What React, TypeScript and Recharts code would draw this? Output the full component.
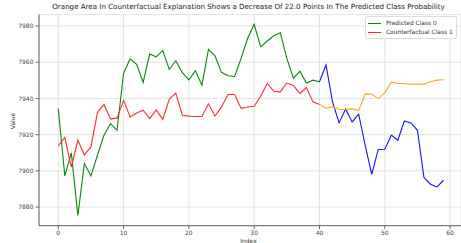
import { LineChart, Line, XAxis, YAxis, CartesianGrid } from 'recharts'

// values, index 0..40 for the first part, 40..59 for the tail
const predicted = [
  7934.5, 7897.2, 7909.9, 7875.4, 7904, 7897.2, 7908.6, 7919.7, 7926.1, 7922.4,
  7953.8, 7961.9, 7958.9, 7948.8, 7964.5, 7963, 7966.5, 7956, 7960.8, 7954.2,
  7950.3, 7955.3, 7947.3, 7967.1, 7963.5, 7954.4, 7952.5, 7952.1, 7962.1, 7973.2,
  7980.9, 7968.5, 7971.7, 7974.6, 7976.3, 7962.1, 7951.2, 7955, 7948.5, 7950.1,
  7949.2,
]
const counterfactual = [
  7913.8, 7918.4, 7902.1, 7916.9, 7908.8, 7913.2, 7932.2, 7936.7, 7928.7, 7929.1,
  7938.9, 7929.8, 7932, 7933.5, 7928.9, 7933.7, 7928.4, 7939.6, 7942.9, 7930.7,
  7930.2, 7930, 7930, 7937, 7930.3, 7935.3, 7942.2, 7942.2, 7934.5, 7935.3,
  7935.7, 7941.3, 7948.3, 7944, 7943.6, 7948.5, 7947.2, 7942.8, 7945.9, 7938.1,
  7936.7,
]
const predictedTail = [
  7949.2, 7958.4, 7938.1, 7926.5, 7934.1, 7927, 7931.3, 7914.1, 7898.1, 7911.8,
  7911.9, 7919.7, 7916.9, 7927.6, 7926.5, 7922.4, 7896.3, 7892.6, 7891.1, 7894.8,
]
const counterfactualTail = [
  7936.7, 7934.6, 7935.3, 7933.9, 7933.9, 7934.2, 7933.3, 7942.5, 7942.3, 7939.9,
  7943.1, 7949, 7948.3, 7948.1, 7947.9, 7947.9, 7947.9, 7949.2, 7950.1, 7950.3,
]
const tailStart = 40
const xTicks = [0, 10, 20, 30, 40, 50, 60]
const yTicks = [7880, 7900, 7920, 7940, 7960, 7980]

const data = Array.from({ length: 60 }, (_, i) => ({
  index: i,
  pred: i <= tailStart ? predicted[i] : null,
  cf: i <= tailStart ? counterfactual[i] : null,
  predTail: i >= tailStart ? predictedTail[i - tailStart] : null,
  cfTail: i >= tailStart ? counterfactualTail[i - tailStart] : null,
}))

const font = '"DejaVu Sans", sans-serif'
const tickStyle = { fontSize: 6, fill: '#444', fontFamily: font }

export default function App() {
  return (
    <div style={{ position: 'absolute', left: 0, top: 0, width: 461, height: 243, background: '#fff', fontFamily: font }}>
      <LineChart width={461} height={243} data={data} margin={{ top: 14.6, right: 0, bottom: 0, left: 0 }}>
        <CartesianGrid stroke="#dcdcdc" strokeWidth={0.8} />
        <XAxis
          dataKey="index"
          type="number"
          domain={[-2.95, 61.67]}
          ticks={xTicks}
          allowDataOverflow
          height={17.3}
          tick={tickStyle}
          tickSize={3.5}
          stroke="#444"
          strokeWidth={0.8}
        />
        <YAxis
          type="number"
          domain={[7869.7, 7986.3]}
          ticks={yTicks}
          allowDataOverflow
          width={39}
          tick={tickStyle}
          tickSize={3.5}
          stroke="#444"
          strokeWidth={0.8}
        />
        <Line dataKey="pred" stroke="#0a870a" strokeWidth={1.1} dot={false} isAnimationActive={false} />
        <Line dataKey="cf" stroke="#ff2a2a" strokeWidth={1.1} dot={false} isAnimationActive={false} />
        <Line dataKey="predTail" stroke="#1010ff" strokeWidth={1.1} dot={false} isAnimationActive={false} />
        <Line dataKey="cfTail" stroke="#ffa81a" strokeWidth={1.1} dot={false} isAnimationActive={false} />
      </LineChart>

      <div style={{ position: 'absolute', left: 0, width: 497, top: 2, textAlign: 'center', fontSize: 7.1, color: '#222', whiteSpace: 'nowrap' }}>
        Orange Area In Counterfactual Explanation Shows a Decrease Of 22.0 Points In The Predicted Class Probability
      </div>
      <div style={{ position: 'absolute', left: 0, width: 497, top: 237, textAlign: 'center', fontSize: 6, color: '#333' }}>Index</div>
      <div
        style={{
          position: 'absolute', left: 12, top: 121, fontSize: 6, color: '#333',
          transform: 'translate(-50%, -50%) rotate(-90deg)',
        }}
      >
        Value
      </div>

      <div
        style={{
          position: 'absolute', left: 365, top: 16, width: 92, height: 23, background: 'rgba(255,255,255,0.85)',
          border: '1px solid #dcdcdc', borderRadius: 2, boxSizing: 'border-box', fontSize: 5.9, color: '#333',
        }}
      >
        {[
          { name: 'Predicted Class 0', color: '#0a870a' },
          { name: 'Counterfactual Class 1', color: '#ff2a2a' },
        ].map((d, i) => (
          <div key={d.name} style={{ position: 'absolute', left: 2, top: 2 + i * 9, height: 8, width: 86 }}>
            <div style={{ position: 'absolute', left: 0, top: 4, width: 13, height: 1, background: d.color }} />
            <div style={{ position: 'absolute', left: 18, top: 0, lineHeight: '8px', whiteSpace: 'nowrap' }}>{d.name}</div>
          </div>
        ))}
      </div>
    </div>
  )
}
